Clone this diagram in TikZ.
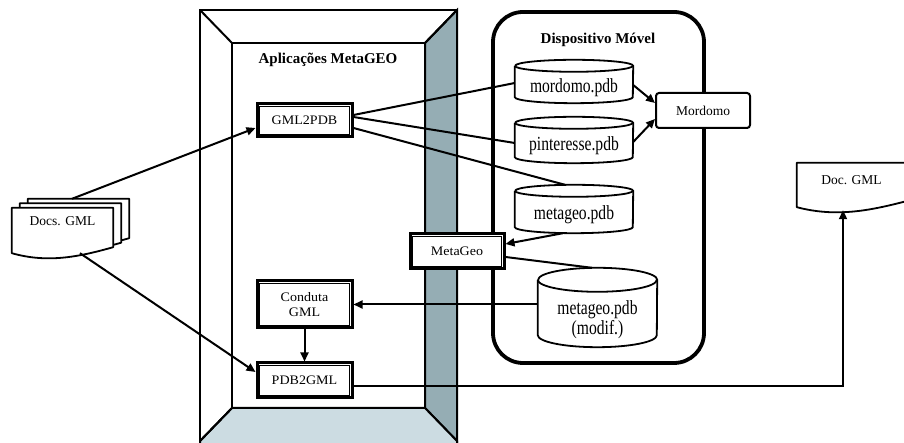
\documentclass[tikz,border=0pt]{standalone}
\usepackage{fontspec}
\setmainfont{Liberation Serif}
\newfontfamily\dbfont[FakeStretch=0.78]{Liberation Serif}
\newfontfamily\boxfont[FakeStretch=1.08]{Liberation Serif}
\usetikzlibrary{arrows.meta,calc}

\pgfdeclarelayer{frame}
\pgfdeclarelayer{shapes}
\pgfsetlayers{frame,shapes,main}

\definecolor{bevelside}{RGB}{149,173,180}
\definecolor{bevelfloor}{RGB}{204,220,226}

\tikzset{
  frameline/.style={line width=2pt, line join=miter},
  dbox/.style={draw, line width=3pt, fill=white, inner sep=0pt, align=center,
    font=\boxfont\fontsize{13}{15}\selectfont,
    path picture={\draw[line width=1pt]
      ([shift={(2.8pt,-2.8pt)}]path picture bounding box.north west) rectangle
      ([shift={(-2.8pt,2.8pt)}]path picture bounding box.south east);}},
  dblabel/.style={inner sep=0pt, align=center, font=\dbfont\fontsize{20}{17}\selectfont},
  cylline/.style={line width=1.8pt},
  docline/.style={line width=1.8pt, fill=white, line join=round},
  doclabel/.style={inner sep=0pt, font=\fontsize{13.5}{15}\selectfont},
  title/.style={inner sep=0pt, font=\bfseries\fontsize{15}{17}\selectfont},
  smallbox/.style={draw, line width=2pt, fill=white, rounded corners=3pt, inner sep=0pt,
    font=\fontsize{13.5}{15}\selectfont},
  conn/.style={line width=2pt},
  arr/.style={conn, -{Triangle[length=9pt,width=8pt]}},
}

% outline of a vertical cylinder around node #1 (half width #2, ellipse radius #3)
\newcommand\cylout[3]{%
  \draw[cylline] ([yshift=#3]#1.north west) -- ([yshift=#3]#1.south west)
    arc[start angle=180, end angle=360, x radius=#2, y radius=#3]
    -- ([yshift=#3]#1.north east)
    arc[start angle=0, end angle=180, x radius=#2, y radius=#3];
  \draw[cylline] ([yshift=#3]#1.north west)
    arc[start angle=180, end angle=360, x radius=#2, y radius=#3];}

% document sheet with a wavy lower edge around node #1
\newcommand\docout[1]{%
  \draw[docline] (#1.north west) -- (#1.north east) -- ([yshift=6pt]#1.south east)
    .. controls ($(#1.south west)!0.65!(#1.south east)+(0,-4pt)$)
    and ($(#1.south west)!0.35!(#1.south east)+(0,-10pt)$) .. (#1.south west) -- cycle;}

\begin{document}
\begin{tikzpicture}[x=1pt,y=1pt]
\useasboundingbox (0,0) rectangle (904,443);
\clip (0,0) rectangle (904,443);

% ---- application frame (bevelled box) and device container
\begin{pgfonlayer}{frame}
  \fill[white] (0,0) rectangle (904,443);
  \filldraw[frameline, fill=bevelside] (425,400) -- (457,433) -- (457,2) -- (425,35) -- cycle;
  \filldraw[frameline, fill=bevelfloor] (232,35) -- (425,35) -- (457,2) -- (457,-4)
    -- (200,-4) -- (200,2) -- cycle;
  \draw[frameline] (200,-4) -- (200,433) -- (457,433) -- (457,-4);
  \draw[frameline] (232,35) rectangle (425,400);
  \draw[frameline] (200,433) -- (232,400);
  \draw[frameline] (457,433) -- (425,400);
  \draw[frameline] (200,2) -- (232,35);
  \node[draw, line width=3.8pt, rounded corners=30pt, fill=white,
        minimum width=211, minimum height=351] (dev) at (598.5,255.5) {};
\end{pgfonlayer}

\node[title] (appTitle) at (328,383) {Aplicações MetaGEO};
\node[title] (devTitle) at (598,403) {Dispositivo Móvel};

% ---- processing boxes
\node[dbox, minimum width=95, minimum height=33] (g2p)  at (304.5,322.5) {GML2PDB};
\node[dbox, minimum width=94, minimum height=35] (mgeo) at (457,191.5) {MetaGeo};
\node[dbox, minimum width=95, minimum height=47] (cond) at (304.5,138.5) {Conduta\\GML};
\node[dbox, minimum width=95, minimum height=35] (p2g)  at (304.5,62.5) {PDB2GML};
\node[smallbox, minimum width=94, minimum height=35] (mord) at (703,332.5) {Mordomo};

% ---- databases on the device
\node[dblabel, minimum width=118, minimum height=31] (dbMord) at (574,355.5) {mordomo.pdb};
\node[dblabel, minimum width=118, minimum height=34] (dbPint) at (574,297) {pinteresse.pdb};
\node[dblabel, minimum width=118, minimum height=36] (dbMeta) at (574,228) {metageo.pdb};
\node[dblabel, minimum width=119, minimum height=55] (dbMod)  at (597.5,123.5) {metageo.pdb\\(modif.)};

% ---- documents
\node[doclabel, minimum width=101, minimum height=45] (docsB) at (78.5,221.5) {};
\node[doclabel, minimum width=101, minimum height=45] (docsM) at (70.5,217) {};
\node[doclabel, minimum width=101, minimum height=45] (docsF) at (62.5,212.5)
  {\raisebox{5pt}[0pt][0pt]{Docs. GML}};
\node[doclabel, minimum width=109, minimum height=44] (docOut) at (851.5,258)
  {\raisebox{0pt}[0pt][0pt]{Doc. GML}};

\begin{pgfonlayer}{shapes}
  \cylout{dbMord}{59pt}{6pt}
  \cylout{dbPint}{59pt}{6pt}
  \cylout{dbMeta}{59pt}{6pt}
  \cylout{dbMod}{59.5pt}{12pt}
  \docout{docsB}
  \docout{docsM}
  \docout{docsF}
  \docout{docOut}
\end{pgfonlayer}

% ---- connectors
\draw[arr]  ([xshift=-6.5pt]docsB.north) -- ([yshift=-7.5pt]g2p.west);
\draw[arr]  ([xshift=17.5pt]docsF.south) -- ([yshift=8.5pt]p2g.west);
\draw[conn] ([yshift=5.5pt]g2p.east) -- ([yshift=4.5pt]dbMord.west);
\draw[conn] ([yshift=3.5pt]g2p.east) -- ([yshift=3pt]dbPint.west);
\draw[conn] ([yshift=-7.5pt]g2p.east) -- ([xshift=-9pt,yshift=12pt]dbMeta.north);
\draw[arr]  ([xshift=-11pt]dbMeta.south) -- ([yshift=7.5pt]mgeo.east);
\draw[conn] ([yshift=-5.5pt]mgeo.east) -- ([xshift=-5.5pt,yshift=24pt]dbMod.north);
\draw[arr]  (dbMod.west |- cond.east) -- (cond.east);
\draw[arr]  (cond.south) -- (p2g.north);
\draw[arr]  ([yshift=-5.5pt]p2g.east) -| ([xshift=-8.5pt,yshift=-3pt]docOut.south);
\draw[arr]  ([yshift=2.5pt]dbMord.east) -- ([yshift=7.5pt]mord.west);
\draw[arr]  ([yshift=4pt]dbPint.east) -- ([yshift=-8.5pt]mord.west);
\end{tikzpicture}
\end{document}
